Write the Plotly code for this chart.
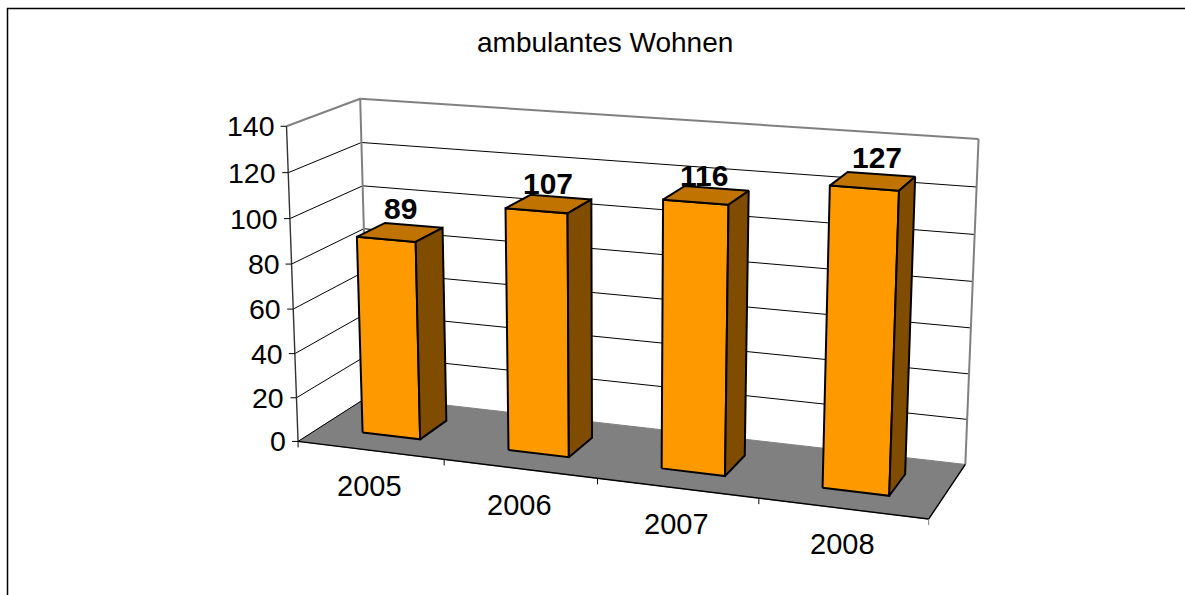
import numpy as np
import plotly.graph_objects as go

title = "ambulantes Wohnen"
years = ["2005", "2006", "2007", "2008"]
values = [89, 107, 116, 127]
y_ticks = [0, 20, 40, 60, 80, 100, 120, 140]

Y_MAX = y_ticks[-1]
BAR_LO, BAR_HI = 0.3, 0.7
FONT = "Liberation Sans"
# the value labels don't sit at quite the same spot over each bar
LABEL_DX = [0, -1, -2, 4]
LABEL_DY = [-24, -20, -20, -24]

# where the corners of the chart box land in the picture: (category, depth, value) -> pixel
# this is the camera of the fake 3d view, everything else goes through project()
CAMERA_POINTS = [
    ((0, 0, 0), (298.7, 441.7)),
    ((0, 0, Y_MAX), (286, 126)),
    ((0, 1, Y_MAX), (360.7, 99)),
    ((0, 1, 0), (368, 396)),
    ((4, 1, Y_MAX), (978.5, 139)),
    ((4, 1, 0), (965.5, 464.5)),
    ((4, 0, 0), (928.5, 519)),
]


def fit_camera(points):
    rows = []
    for (x, d, v), (px, py) in points:
        p = [x, d, v / Y_MAX, 1]
        rows.append(p + [0, 0, 0, 0] + [-px * c for c in p])
        rows.append([0, 0, 0, 0] + p + [-py * c for c in p])
    return np.linalg.svd(np.array(rows))[2][-1].reshape(3, 4)


CAMERA = fit_camera(CAMERA_POINTS)


def project(x, d, v):
    h = CAMERA @ np.array([x, d, v / Y_MAX, 1.0])
    return h[0] / h[2], h[1] / h[2]


fig = go.Figure()


def add_face(corners, fill):
    pts = [project(*c) for c in corners]
    fig.add_trace(go.Scatter(
        x=[p[0] for p in pts] + [pts[0][0]],
        y=[p[1] for p in pts] + [pts[0][1]],
        mode="lines", fill="toself", fillcolor=fill,
        line=dict(color="black", width=2), hoverinfo="skip",
    ))


def add_line(a, b, color="black", width=1.0, dx=0, dy=0):
    pa, pb = project(*a), project(*b)
    fig.add_trace(go.Scatter(
        x=[pa[0], pb[0] + dx], y=[pa[1], pb[1] + dy],
        mode="lines", line=dict(color=color, width=width), hoverinfo="skip",
    ))


def add_label(pos, text, dx=0, dy=0, size=28, bold=False, anchor="center"):
    fig.add_annotation(
        x=pos[0] + dx, y=pos[1] + dy, text=f"<b>{text}</b>" if bold else text,
        showarrow=False, xanchor=anchor, yanchor="middle",
        font=dict(family=FONT, size=size, color="black"),
    )


# floor
pts = [project(*c) for c in [(0, 0, 0), (0, 1, 0), (4, 1, 0), (4, 0, 0)]]
fig.add_trace(go.Scatter(
    x=[p[0] for p in pts] + [pts[0][0]], y=[p[1] for p in pts] + [pts[0][1]],
    mode="lines", fill="toself", fillcolor="#808080",
    line=dict(color="#808080", width=1), hoverinfo="skip",
))

# gridlines on the two walls
for t in y_ticks[1:-1]:
    add_line((0, 0, t), (0, 1, t))
    add_line((0, 1, t), (4, 1, t))
add_line((0, 0, 0), (0, 1, 0))

# wall outline
add_line((0, 0, Y_MAX), (0, 1, Y_MAX), "#808080", 2)
add_line((0, 1, Y_MAX), (4, 1, Y_MAX), "#808080", 2)
add_line((0, 1, Y_MAX), (0, 1, 0), "#808080", 2)
add_line((4, 1, Y_MAX), (4, 1, 0), "#808080", 2)

# axes
add_line((0, 0, 0), (0, 0, Y_MAX), "#333333", 1.4)
add_line((0, 0, 0), (4, 0, 0), "black", 1.4)
add_line((4, 0, 0), (4, 1, 0), "black", 1.4)
for t in y_ticks:
    add_line((0, 0, t), (0, 0, t), "black", 1.0, dx=-6)
    add_label(project(0, 0, t), str(t), dx=-10, size=28.5, anchor="right")
for i in range(len(years) + 1):
    add_line((i, 0, 0), (i, 0, 0), "black" if i < 4 else "#808080", 1.0, dy=6)
for i, year in enumerate(years):
    add_label(project(i + 0.5, 0, 0), year, dx=-0.5, dy=36, size=29)

# bars
for i, v in enumerate(values):
    x0, x1 = i + BAR_LO, i + BAR_HI
    add_face([(x0, BAR_LO, 0), (x1, BAR_LO, 0), (x1, BAR_LO, v), (x0, BAR_LO, v)], "#FF9900")
    add_face([(x0, BAR_LO, v), (x1, BAR_LO, v), (x1, BAR_HI, v), (x0, BAR_HI, v)], "#C07300")
    add_face([(x1, BAR_LO, 0), (x1, BAR_HI, 0), (x1, BAR_HI, v), (x1, BAR_LO, v)], "#804D00")
    add_label(project(i + 0.5, 0.5, v), str(v), dx=LABEL_DX[i], dy=LABEL_DY[i], size=30, bold=True)

fig.add_annotation(
    x=604.5, y=42.5, text=title, showarrow=False, xanchor="center", yanchor="middle",
    font=dict(family=FONT, size=28, color="black"),
)

# chart frame, runs off the page on the right and at the bottom
fig.add_trace(go.Scatter(
    x=[7.5, 7.5, 1185], y=[595, 8.5, 8.5], mode="lines",
    line=dict(color="black", width=1.5), hoverinfo="skip",
))

fig.update_xaxes(range=[0, 1185], visible=False)
fig.update_yaxes(range=[595, 0], visible=False)
fig.update_layout(
    width=1185, height=595, margin=dict(l=0, r=0, t=0, b=0),
    paper_bgcolor="white", plot_bgcolor="white", showlegend=False,
)

fig.write_html(
    "out.html",
    config={"displayModeBar": False},
    post_script="document.body.style.margin='0';document.body.style.overflow='hidden';",
)
